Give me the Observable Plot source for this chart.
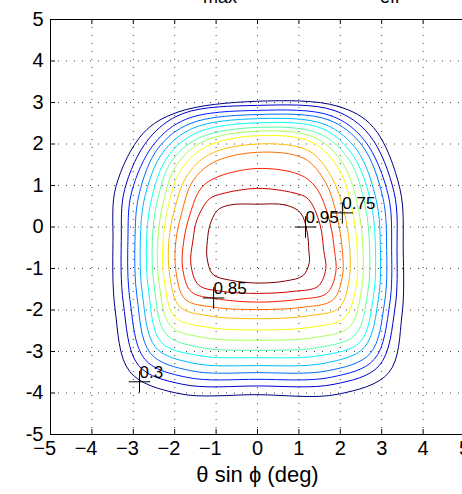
<!DOCTYPE html>
<html><head><meta charset="utf-8">
<script src="https://cdn.jsdelivr.net/npm/d3@7"></script>
<script src="https://cdn.jsdelivr.net/npm/@observablehq/plot@0.6"></script>
<style>
html,body{margin:0;padding:0;background:#fff;overflow:hidden;}
#chart{position:relative;width:470px;height:494px;}
.sub{position:absolute;top:-12px;font:18px/18px "Liberation Sans",Arial,sans-serif;color:#000;white-space:nowrap;}
svg{display:block;}
</style></head><body><div id="chart"><span class="sub" style="left:203px">max</span><span class="sub" style="left:380px">eff</span></div>
<script>
// contour levels (outer -> inner)
const levels = [0.3,0.35,0.4,0.45,0.5,0.55,0.6,0.65,0.7,0.75,0.8,0.85,0.9,0.95];
// crossings of each contour with x = 0 (top / bottom)
const topY    = [3.03,2.93,2.81,2.71,2.61,2.51,2.40,2.31,2.20,2.00,1.80,1.41,0.93,0.55];
const bottomY = [-4.04,-3.83,-3.67,-3.51,-3.34,-3.15,-2.97,-2.73,-2.48,-2.21,-1.99,-1.81,-1.60,-1.35];
// crossings with the horizontal rows read at leftAtY / rightAtY
const leftAtY = -0.33, rightAtY = -0.57;
const leftX  = [-3.49,-3.29,-3.13,-2.96,-2.83,-2.68,-2.54,-2.41,-2.28,-2.14,-1.97,-1.78,-1.56,-1.21];
const rightX = [3.52,3.37,3.24,3.12,2.97,2.85,2.71,2.55,2.41,2.23,2.05,1.86,1.60,1.24];
// further points
const topShoulderR = [[1.94,2.91],[1.85,2.81],[1.78,2.68],[1.72,2.58],[1.63,2.47],[1.57,2.37],[1.49,2.25],[1.40,2.15],[1.33,2.04],[1.23,1.84],[1.13,1.65],[1.02,1.26],[0.88,0.82],[0.68,0.53]];
const cornerTR = [[2.80,2.40],[2.70,2.22],[2.59,2.08],[2.53,1.96],[2.41,1.84],[2.31,1.72],[2.22,1.61],[2.09,1.49],[1.98,1.37],[1.78,1.22],[1.64,1.08],[1.42,0.94],[1.22,0.68],[1.04,0.34]];
const rightUpper = [[3.44,0.92],[3.30,0.83],[3.16,0.76],[3.03,0.70],[2.87,0.64],[2.74,0.58],[2.60,0.52],[2.43,0.46],[2.29,0.40],[2.10,0.33],[1.92,0.26],[1.73,0.19],[1.51,0.06],[1.20,-0.12]];
const rightLower = [[3.49,-2.12],[3.32,-1.96],[3.19,-1.88],[3.07,-1.81],[2.92,-1.74],[2.80,-1.67],[2.66,-1.60],[2.51,-1.53],[2.38,-1.44],[2.21,-1.29],[2.05,-1.19],[1.89,-1.10],[1.65,-1.01],[1.25,-0.86]];
const cornerBR = [[3.17,-3.51],[2.94,-3.34],[2.82,-3.19],[2.72,-3.05],[2.58,-2.90],[2.48,-2.77],[2.36,-2.60],[2.22,-2.41],[2.10,-2.19],[1.97,-1.95],[1.82,-1.76],[1.67,-1.60],[1.46,-1.43],[1.10,-1.17]];
const bottomShoulderR = [[1.94,-4.03],[1.85,-3.79],[1.78,-3.62],[1.72,-3.46],[1.63,-3.28],[1.57,-3.09],[1.49,-2.90],[1.40,-2.66],[1.33,-2.41],[1.23,-2.14],[1.13,-1.93],[1.02,-1.74],[0.88,-1.55],[0.68,-1.30]];
const bottomShoulderL = [[-1.92,-4.01],[-1.81,-3.79],[-1.72,-3.62],[-1.63,-3.46],[-1.56,-3.28],[-1.47,-3.09],[-1.40,-2.90],[-1.33,-2.66],[-1.25,-2.41],[-1.18,-2.14],[-1.08,-1.93],[-0.98,-1.73],[-0.86,-1.55],[-0.67,-1.28]];
const cornerBL = [[-3.08,-3.49],[-2.87,-3.34],[-2.72,-3.19],[-2.58,-3.05],[-2.46,-2.90],[-2.33,-2.77],[-2.21,-2.58],[-2.10,-2.38],[-1.99,-2.17],[-1.88,-1.92],[-1.75,-1.74],[-1.60,-1.56],[-1.42,-1.40],[-1.08,-1.14]];
const leftLower = [[-3.44,-1.98],[-3.24,-1.84],[-3.08,-1.76],[-2.91,-1.69],[-2.78,-1.62],[-2.63,-1.55],[-2.49,-1.48],[-2.37,-1.41],[-2.25,-1.32],[-2.12,-1.17],[-1.97,-1.07],[-1.81,-0.98],[-1.61,-0.89],[-1.22,-0.73]];
const leftUpper = [[-3.42,0.97],[-3.21,0.90],[-3.04,0.84],[-2.86,0.79],[-2.72,0.73],[-2.56,0.68],[-2.42,0.63],[-2.28,0.57],[-2.15,0.52],[-2.00,0.44],[-1.82,0.38],[-1.63,0.31],[-1.46,0.18],[-1.15,0.04]];
const cornerTL = [[-2.76,2.26],[-2.63,2.12],[-2.50,2.00],[-2.40,1.90],[-2.29,1.79],[-2.18,1.68],[-2.08,1.58],[-1.97,1.47],[-1.86,1.36],[-1.72,1.21],[-1.58,1.08],[-1.36,0.94],[-1.16,0.68],[-0.97,0.40]];
const topShoulderL = [[-1.92,2.77],[-1.81,2.73],[-1.72,2.60],[-1.63,2.49],[-1.56,2.38],[-1.47,2.27],[-1.40,2.15],[-1.33,2.05],[-1.25,1.93],[-1.18,1.74],[-1.08,1.55],[-0.98,1.20],[-0.86,0.80],[-0.67,0.53]];
// contour labels
const labelLevels = [0.95,0.75,0.85,0.3];
const labelX = [1.16,2.05,-1.06,-2.85];
const labelY = [0.00,0.34,-1.71,-3.73];
// axes
const xTicks = [-5,-4,-3,-2,-1,0,1,2,3,4,5];
const yTicks = [-5,-4,-3,-2,-1,0,1,2,3,4,5];
const xLabel = "θ sin ϕ (deg)";
// jet colormap stops
const jetDomain = [0.3,0.38125,0.54375,0.70625,0.86875,0.95];
const jetRange = ["#000080","#0000ff","#00ffff","#ffff00","#ff0000","#800000"];

const rows = levels.flatMap((lv,k) => [
  [0, topY[k]], topShoulderR[k], cornerTR[k], rightUpper[k], [rightX[k], rightAtY], rightLower[k], cornerBR[k], bottomShoulderR[k],
  [0, bottomY[k]], bottomShoulderL[k], cornerBL[k], leftLower[k], [leftX[k], leftAtY], leftUpper[k], cornerTL[k], topShoulderL[k]
].map(([x,y]) => ({level: lv, x, y})));
const labels = labelLevels.map((lv,i) => ({level: lv, x: labelX[i], y: labelY[i]}));

const font = '"Liberation Sans", Arial, Helvetica, sans-serif';
const W = 470, H = 494, mL = 50, mR = 6, mT = 19, mB = 60;
const pw = W - mL - mR, ph = H - mT - mB;

const chart = Plot.plot({
  width: W, height: H,
  marginLeft: mL, marginRight: mR, marginTop: mT, marginBottom: mB,
  style: {fontFamily: font, background: "#fff", overflow: "visible"},
  x: {domain: [-5, 5], axis: null},
  y: {domain: [-5, 5], axis: null},
  color: {type: "linear", domain: jetDomain, range: jetRange},
  marks: [
    Plot.gridX(xTicks.slice(1,-1), {stroke: "#000", strokeOpacity: 0.75, strokeDasharray: "1,7"}),
    Plot.gridY(yTicks.slice(1,-1), {stroke: "#000", strokeOpacity: 0.75, strokeDasharray: "1,7"}),
    Plot.line(rows, {x: "x", y: "y", z: "level", stroke: "level", curve: "catmull-rom-closed", strokeWidth: 1}),
    Plot.frame({stroke: "#000", strokeWidth: 1}),
    Plot.tickX(xTicks, {x: d => d, insetTop: ph - 5, stroke: "#000"}),
    Plot.tickX(xTicks, {x: d => d, insetBottom: ph - 5, stroke: "#000"}),
    Plot.tickY(yTicks, {y: d => d, insetRight: pw - 5, stroke: "#000"}),
    Plot.axisY(yTicks, {tickSize: 0, tickPadding: 7, tickFormat: d => String(d), fontSize: 20, fill: "#000", label: null}),
    Plot.text(xTicks.filter(d => d >= 0), {x: d => d, text: d => String(d), frameAnchor: "bottom", lineAnchor: "top", dy: 6, fontSize: 20, fill: "#000"}),
    Plot.text(xTicks.filter(d => d < 0), {x: d => d, text: d => "\u2212" + Math.abs(d), frameAnchor: "bottom", lineAnchor: "top", textAnchor: "end", dx: 5.6, dy: 6, fontSize: 20, fill: "#000"}),
    Plot.text([xLabel], {x: 0, text: d => d, frameAnchor: "bottom", lineAnchor: "bottom", dy: 47, fontSize: 22, fill: "#000"}),
    Plot.dot(labels, {x: "x", y: "y", symbol: "plus", r: 7, stroke: "#000", strokeWidth: 1}),
    Plot.text(labels, {x: "x", y: "y", text: d => String(d.level), textAnchor: "start", lineAnchor: "bottom", dy: -4, fontSize: 17, fill: "#000"})
  ]
});
document.getElementById("chart").prepend(chart);
</script>
</body></html>
